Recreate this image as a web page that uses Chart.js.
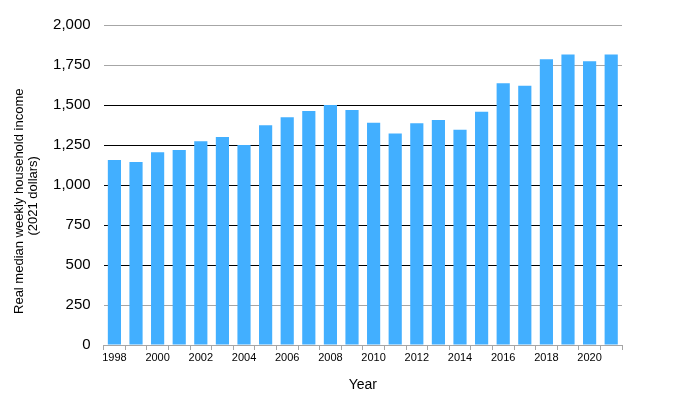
<!DOCTYPE html>
<html>
<head>
<meta charset="utf-8">
<script src="https://cdn.jsdelivr.net/npm/chart.js@4"></script>
<style>
  html, body { margin: 0; padding: 0; background: #fff; }
  #wrap { width: 680px; height: 414px; }
</style>
</head>
<body>
<div id="wrap"><canvas id="income"></canvas></div>
<script>
// data
const years = ["1998", "1999", "2000", "2001", "2002", "2003", "2004", "2005", "2006", "2007", "2008", "2009",
  "2010", "2011", "2012", "2013", "2014", "2015", "2016", "2017", "2018", "2019", "2020", "2021"];
const income = [1156, 1144, 1204, 1219, 1273, 1300, 1250, 1373, 1423, 1462, 1500, 1469,
  1389, 1322, 1386, 1406, 1346, 1458, 1636, 1621, 1786, 1816, 1773, 1816];
const yTicks = [0, 250, 500, 750, 1000, 1250, 1500, 1750, 2000];
const blackLines = [500, 750, 1000, 1250, 1500];

const ctx = document.getElementById("income");
Chart.defaults.font.family = "'Liberation Sans', Arial, sans-serif";
Chart.defaults.color = "#000";

new Chart(ctx, {
  type: "bar",
  data: {
    labels: years,
    datasets: [
      {
        label: "Real median weekly household income",
        data: income,
        backgroundColor: "#42AFFF",
        categoryPercentage: 0.61,
        barPercentage: 1.0,
      },
    ],
  },
  options: {
    responsive: true,
    maintainAspectRatio: false,
    animation: false,
    layout: {
      padding: { top: 25, right: 58, left: 8, bottom: 16 },
    },
    plugins: {
      legend: { display: false },
      tooltip: { enabled: false },
    },
    scales: {
      x: {
        offset: true,
        grid: {
          offset: true,
          drawOnChartArea: false,
          drawTicks: true,
          tickLength: 5,
          color: "#a6a6a6",
        },
        border: { color: "#a6a6a6" },
        ticks: {
          autoSkip: false,
          maxRotation: 0,
          padding: 1,
          font: { size: 11 },
          callback: function (val, i) {
            return i % 2 === 0 ? years[i] : "";
          },
        },
        title: {
          display: true,
          text: "Year",
          font: { size: 14 },
          padding: { top: 12 },
        },
      },
      y: {
        min: 0,
        max: 2000,
        afterBuildTicks: function (axis) {
          axis.ticks = yTicks.map(v => ({ value: v }));
        },
        grid: {
          drawTicks: false,
          color: function (c) {
            return blackLines.includes(c.tick.value) ? "#000" : "#a6a6a6";
          },
          lineWidth: 1,
        },
        border: { display: false },
        ticks: {
          padding: 13,
          font: { size: 15 },
          callback: v => v.toLocaleString("en-US"),
        },
        title: {
          display: true,
          // trailing spaces push the rotated text a little lower, like the original
          text: ["Real median weekly household income         ", "(2021 dollars)      "],
          font: { size: 13, lineHeight: 1.08 },
          padding: { bottom: 0 },
        },
      },
    },
  },
});
</script>
</body>
</html>
